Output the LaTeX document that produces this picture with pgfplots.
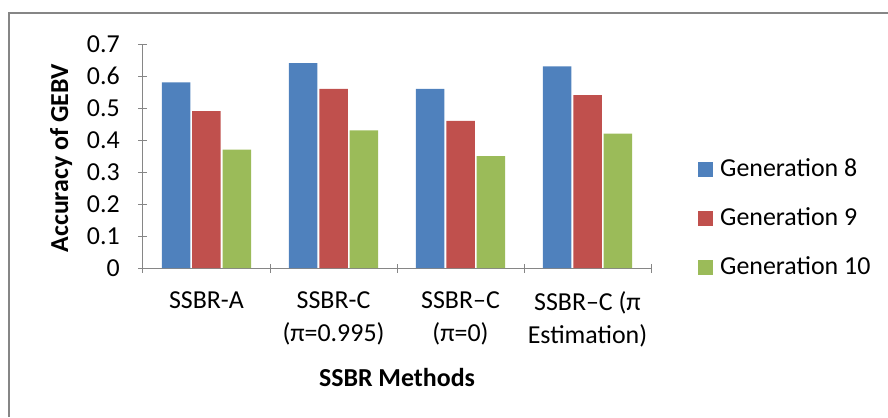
\documentclass[border=0pt]{standalone}
\usepackage{pgfplots}
\pgfplotsset{compat=1.18}
\usepackage{fontspec}
\setmainfont{Carlito}
\definecolor{gblue}{HTML}{4F81BD}
\definecolor{gred}{HTML}{C0504D}
\definecolor{ggreen}{HTML}{9BBB59}
\definecolor{axgray}{HTML}{868686}
\begin{document}
\fontsize{26}{32}\selectfont
\begin{tikzpicture}[x=1bp,y=1bp]
  % page: 888 x 417, axis origin at image (143,268)
  \path[use as bounding box] (-143,-149) rectangle (745,268);
  \draw[axgray, line width=1.2bp] (-134,-149) -- (-134,255) -- (745,255);
  \begin{axis}[
    at={(0,0)}, anchor=south west,
    scale only axis, width=508bp, height=224bp,
    ybar, bar width=28.5bp, bar shift auto,
    ymin=0, ymax=0.7, ytick={0,0.1,...,0.7},
    xmin=-0.5, xmax=3.5,
    xtick={0,1,2,3},
    xticklabels={SSBR-A, {SSBR-C\\(π=0.995)}, {SSBR–C\\(π=0)}, {SSBR–C (π\\Estimation)}},
    x tick label style={align=center, yshift=-10bp, font=\fontsize{26}{33}\selectfont},
    y tick label style={xshift=-10bp},
    major x tick style={draw=none},
    minor xtick={-0.5,0.5,1.5,2.5,3.5},
    minor tick length=9bp, major tick length=9bp,
    tick align=outside,
    axis x line=bottom, axis y line=left,
    axis line style={-, axgray, line width=1bp},
    tick style={axgray, line width=1bp},
    /pgf/number format/assume math mode=true,
    /pgf/number format/fixed,
    xlabel={\bfseries SSBR Methods},
    ylabel={\bfseries Accuracy of GEBV},
    xlabel style={at={(axis description cs:0.5,-0.49)}, anchor=center},
    ylabel style={at={(axis description cs:-0.161,0.49)}, anchor=center},
    legend style={draw=none, at={(axis description cs:1.0925,0.222)}, anchor=west,
      row sep=27bp, inner sep=0pt, cells={anchor=west},
      nodes={inner xsep=7bp, inner ysep=0pt}},
    legend image code/.code={\fill[#1] (0bp,-7.5bp) rectangle (15bp,7.5bp);},
    every axis plot/.append style={draw=none},
  ]
    \addplot[fill=gblue] coordinates {(0,0.58) (1,0.64) (2,0.56) (3,0.63)};
    \addplot[fill=gred] coordinates {(0,0.49) (1,0.56) (2,0.46) (3,0.54)};
    \addplot[fill=ggreen] coordinates {(0,0.37) (1,0.43) (2,0.35) (3,0.42)};
    \legend{Generation 8, Generation 9, Generation 10}
  \end{axis}
\end{tikzpicture}
\end{document}
